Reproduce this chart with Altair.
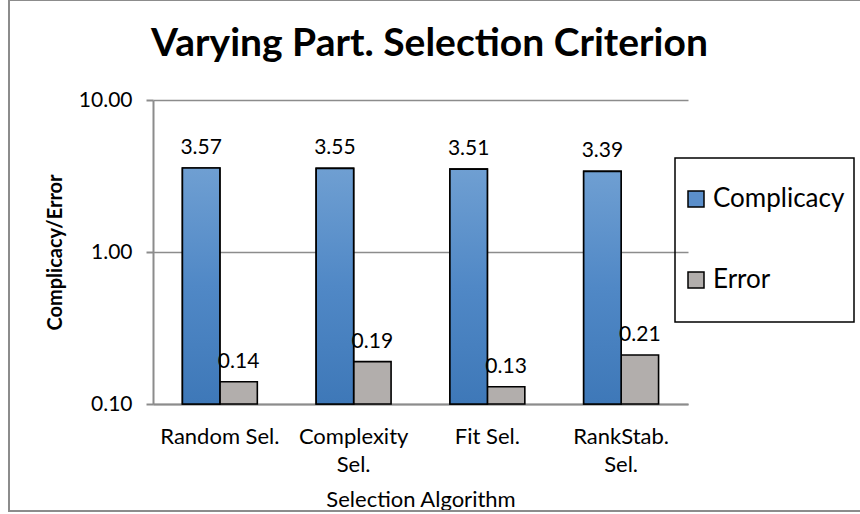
import altair as alt
import pandas as pd

# Chart values
algorithms = ["Random Sel.", "Complexity Sel.", "Fit Sel.", "RankStab. Sel."]
series = ["Complicacy", "Error"]
complicacy = [3.57, 3.55, 3.51, 3.39]
error = [0.14, 0.19, 0.13, 0.21]
y_ticks = [0.1, 1, 10]

rows = []
for alg, c, e in zip(algorithms, complicacy, error):
    rows.append({"algorithm": alg, "series": series[0], "value": c})
    rows.append({"algorithm": alg, "series": series[1], "value": e})
df = pd.DataFrame(rows)

FONT = "Lato"
GRID = "#8c8c8c"
BLUE = "#5b8fcb"
GRAY = "#b2aeac"
W, H = 535, 304

blue_gradient = alt.LinearGradient(
    gradient="linear",
    x1=0, x2=0, y1=0, y2=1,
    stops=[
        alt.GradientStop(offset=0, color="#6f9fd2"),
        alt.GradientStop(offset=0.5, color="#5088c6"),
        alt.GradientStop(offset=1, color="#3e78b8"),
    ],
)

x_enc = alt.X(
    "algorithm:N",
    sort=algorithms,
    scale=alt.Scale(paddingInner=0.44, paddingOuter=0.22),
    axis=alt.Axis(
        title="Selection Algorithm",
        labelAngle=0,
        ticks=False,
        domainColor=GRID,
        domainWidth=2,
        labelFontSize=22,
        labelColor="black",
        labelPadding=22,
        labelLineHeight=28,
        labelExpr="(datum.label == 'Random Sel.' || datum.label == 'Fit Sel.') ? datum.label : split(datum.label, ' ')",
        titleFontSize=22,
        titleFontWeight="normal",
        titleColor="black",
        titleBaseline="alphabetic",
        titleY=102,
    ),
)

y_enc = alt.Y(
    "value:Q",
    stack=None,
    scale=alt.Scale(type="log", domain=[0.1, 10]),
    axis=alt.Axis(
        title="Complicacy/Error",
        values=y_ticks,
        format=".2f",
        grid=True,
        gridColor=GRID,
        gridWidth=1.5,
        domainColor=GRID,
        domainWidth=2,
        tickColor=GRID,
        tickWidth=2,
        tickSize=7,
        labelFontSize=21,
        labelColor="black",
        labelPadding=14,
        titleFontSize=20,
        titleFontWeight="bold",
        titleColor="black",
        titleAngle=-90,
        titleBaseline="middle",
        titleX=-98,
        titleY=H / 2,
    ),
)

# bars rise from the bottom of the log axis
y_base = alt.datum(0.1)

xoff = alt.XOffset("series:N", sort=series, scale=alt.Scale(paddingInner=0, paddingOuter=0))

base = alt.Chart(df)

bars = base.mark_bar(stroke="black", strokeWidth=1.6).encode(
    x=x_enc,
    xOffset=xoff,
    y=y_enc,
    y2=y_base,
    color=alt.Color(
        "series:N",
        sort=series,
        scale=alt.Scale(domain=series, range=[BLUE, GRAY]),
        legend=alt.Legend(
            title=None,
            orient="none",
            legendX=530,
            legendY=86,
            padding=0,
            symbolType="square",
            symbolSize=256,
            symbolStrokeColor="black",
            symbolStrokeWidth=1.5,
            labelFontSize=26,
            labelColor="black",
            labelOffset=4,
            rowPadding=55,
        ),
    ),
)

# gradient fill on the Complicacy bars
blue_bars = base.transform_filter(alt.datum.series == series[0]).mark_bar(
    fill=blue_gradient, stroke="black", strokeWidth=1.6
).encode(x=x_enc, xOffset=xoff, y=y_enc, y2=y_base)

labels = base.mark_text(
    fontSize=21, font=FONT, color="black", baseline="alphabetic", dy=-14
).encode(
    x=x_enc,
    xOffset=xoff,
    y=y_enc,
    text=alt.Text("value:Q", format=".2f"),
)

single = alt.Chart(pd.DataFrame({"f": [0]}))

# outer chart frame (its right side runs past the canvas edge)
frame = single.mark_rect(fillOpacity=0, stroke=GRID, strokeWidth=2).encode(
    x=alt.value(-144), x2=alt.value(720), y=alt.value(-100), y2=alt.value(411)
)

# box around the legend
legend_box = single.mark_rect(fillOpacity=0, stroke="black", strokeWidth=1.5).encode(
    x=alt.value(522), x2=alt.value(701), y=alt.value(58), y2=alt.value(222)
)

chart = (
    alt.layer(frame, bars, blue_bars, labels, legend_box)
    .properties(
        width=W,
        height=H,
        padding={"left": 153, "top": 100, "right": 172, "bottom": 110},
        autosize=alt.AutoSizeParams(type="none"),
        title=alt.TitleParams(
            "Varying Part. Selection Criterion",
            font=FONT,
            fontSize=39,
            fontWeight="bold",
            color="black",
            anchor="middle",
            baseline="alphabetic",
            offset=-96,
            dx=9,
        ),
    )
    .configure(font=FONT, background="white")
    .configure_view(stroke="transparent")
    .configure_axis(labelFont=FONT, titleFont=FONT)
    .configure_legend(labelFont=FONT)
)

chart.save("out.html", embed_options={"renderer": "svg", "actions": False})
